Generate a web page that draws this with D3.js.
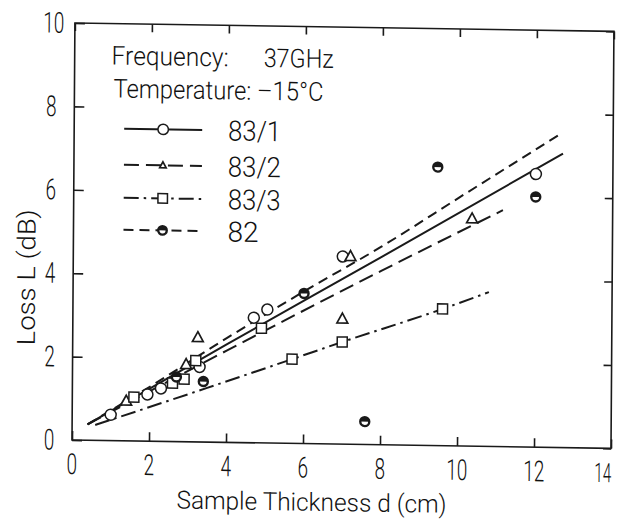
<!DOCTYPE html>
<html>
<head>
<meta charset="utf-8">
<script src="https://cdn.jsdelivr.net/npm/d3@7"></script>
<style>
  html, body { margin: 0; padding: 0; background: #fff; }
  svg { display: block; }
  text { font-family: Roboto, "Liberation Sans", sans-serif; font-weight: 300; fill: #111; }
</style>
</head>
<body>
<svg id="chart" width="626" height="526"></svg>
<script>
// Axis ticks
const xTicks = [0, 2, 4, 6, 8, 10, 12, 14];
const yTicks = [0, 2, 4, 6, 8, 10];

// Series names (legend order)
const seriesNames = ["83/1", "83/2", "83/3", "82"];

// Measured points: [thickness d (cm), loss L (dB)]
const pts831 = [[1.0, 0.62], [1.95, 1.12], [2.3, 1.27], [3.3, 1.8], [4.7, 3.0], [5.05, 3.2], [7.0, 4.5], [12.0, 6.55]];
const pts832 = [[1.4, 0.95], [2.95, 1.85], [3.25, 2.5], [7.0, 3.0], [7.2, 4.5], [10.35, 5.45]];
const pts833 = [[1.6, 1.05], [2.6, 1.4], [2.9, 1.5], [3.2, 1.95], [4.9, 2.75], [5.7, 2.02], [7.0, 2.45], [9.6, 3.28]];
const pts82  = [[2.7, 1.55], [3.4, 1.45], [6.0, 3.6], [7.6, 0.55], [9.45, 6.68], [12.0, 6.0]];

// Fitted loss curves
const fit831 = [[0.4, 0.38], [4, 2.35], [8, 4.5], [12.7, 7.05]];
const fit832 = [[0.4, 0.38], [4, 2.2], [8, 4.17], [11.15, 5.67]];
const fit833 = [[0.6, 0.37], [3.5, 1.3], [5.7, 2.02], [7, 2.45], [9.6, 3.28], [10.8, 3.7]];
const fit82  = [[0.4, 0.38], [2, 1.3], [4, 2.5], [6, 3.65], [8, 4.75], [10, 5.95], [12.6, 7.5]];

const series = [
  { name: seriesNames[0], pts: pts831, fit: fit831, dash: null,         marker: "circle" },
  { name: seriesNames[1], pts: pts832, fit: fit832, dash: "15,7",       marker: "triangle" },
  { name: seriesNames[2], pts: pts833, fit: fit833, dash: "15,5,2.5,5", marker: "square" },
  { name: seriesNames[3], pts: pts82,  fit: fit82,  dash: "10,6",       marker: "half" }
];

const svg = d3.select("#chart");
// the sheet sits slightly askew, so the whole drawing carries a small skew
const g = svg.append("g").attr("transform", "matrix(1,0.0155,-0.007,1,2.08,-1.13)");

const x = d3.scaleLinear().domain([0, 14]).range([73, 612]);
const y = d3.scaleLinear().domain([0, 10]).range([440, 23]);

const ink = "#1a1a1a";

// narrow lettering: squeeze each string to a set width
function label(sel, str, px, py, width, size, anchor) {
  return sel.append("text")
    .attr("x", px).attr("y", py)
    .attr("font-size", size)
    .attr("text-anchor", anchor || "start")
    .attr("textLength", width)
    .attr("lengthAdjust", "spacingAndGlyphs")
    .text(str);
}

// frame
g.append("rect")
  .attr("x", x(0)).attr("y", y(10))
  .attr("width", x(14) - x(0)).attr("height", y(0) - y(10))
  .attr("fill", "none").attr("stroke", ink).attr("stroke-width", 1.6);

// axes with inward ticks
const axB = g.append("g").attr("transform", `translate(0,${y(0)})`)
  .call(d3.axisBottom(x).tickValues(xTicks).tickSizeInner(-9).tickSizeOuter(0).tickFormat(""));
const axT = g.append("g").attr("transform", `translate(0,${y(10)})`)
  .call(d3.axisTop(x).tickValues(xTicks).tickSizeInner(-8).tickSizeOuter(0).tickFormat(""));
const axL = g.append("g").attr("transform", `translate(${x(0)},0)`)
  .call(d3.axisLeft(y).tickValues(yTicks).tickSizeInner(-10).tickSizeOuter(0).tickFormat(""));
const axR = g.append("g").attr("transform", `translate(${x(14)},0)`)
  .call(d3.axisRight(y).tickValues(yTicks).tickSizeInner(-8).tickSizeOuter(0).tickFormat(""));

[axB, axT, axL, axR].forEach(a => {
  a.select(".domain").remove();
  a.selectAll(".tick line").attr("stroke", ink).attr("stroke-width", 1.6);
});

// tick labels
const tickLabels = g.append("g");
xTicks.forEach((v, i) => {
  const s = String(v);
  const last = i === xTicks.length - 1;
  label(tickLabels, s, last ? x(v) - 8 : x(v), 474, s.length * (last ? 8.5 : 10.5), last ? 27 : 29, "middle");
});
yTicks.forEach(v => {
  const s = String(v);
  label(tickLabels, s, s.length > 1 ? 52 : 50, y(v) + 10, s.length * 10.5, 29, "middle");
});

// axis titles
label(g, "Sample Thickness  d  (cm)", 313, 507, 270, 25, "middle");
const yt = g.append("g").attr("transform", "translate(35,278) rotate(-90)");
label(yt, "Loss  L  (dB)", 0, 0, 136, 25, "middle");

// fitted curves
const line = d3.line().x(d => x(d[0])).y(d => y(d[1])).curve(d3.curveMonotoneX);
series.forEach(s => {
  g.append("path").datum(s.fit)
    .attr("d", line)
    .attr("fill", "none").attr("stroke", ink).attr("stroke-width", 2)
    .attr("stroke-dasharray", s.dash);
});

// marker drawing
function drawMarker(sel, type, cx, cy, scale) {
  const k = scale || 1;
  if (type === "circle") {
    sel.append("circle").attr("cx", cx).attr("cy", cy).attr("r", 5.5 * k)
      .attr("fill", "#fff").attr("stroke", ink).attr("stroke-width", 1.5);
  } else if (type === "triangle") {
    const s = 6 * k;
    sel.append("path")
      .attr("d", `M${cx},${cy - s}L${cx + s * 0.9},${cy + s * 0.65}L${cx - s * 0.9},${cy + s * 0.65}Z`)
      .attr("fill", "#fff").attr("stroke", ink).attr("stroke-width", 1.7);
  } else if (type === "square") {
    const s = 5 * k;
    sel.append("rect").attr("x", cx - s).attr("y", cy - s).attr("width", 2 * s).attr("height", 2 * s)
      .attr("fill", "#fff").attr("stroke", ink).attr("stroke-width", 1.5);
  } else {
    const r = 4.5 * k;
    sel.append("circle").attr("cx", cx).attr("cy", cy).attr("r", r)
      .attr("fill", "#fff").attr("stroke", ink).attr("stroke-width", 2.4);
    sel.append("path")
      .attr("d", `M${cx - r},${cy}A${r},${r} 0 0 1 ${cx + r},${cy}Z`)
      .attr("fill", ink);
  }
}

// data points
series.forEach(s => {
  const mg = g.append("g");
  s.pts.forEach(p => drawMarker(mg, s.marker, x(p[0]), y(p[1])));
});

// header notes
label(g, "Frequency:", 110, 64, 117, 26);
label(g, "37GHz", 262, 64, 70, 26);
label(g, "Temperature: \u201315\u00b0C", 112, 97, 210, 26);

// legend
const legendRows = [128, 164, 197, 229];
series.forEach((s, i) => {
  const ly = legendRows[i];
  const lg = g.append("g");
  lg.append("line").attr("x1", 123).attr("x2", 201).attr("y1", ly).attr("y2", ly)
    .attr("stroke", ink).attr("stroke-width", 2).attr("stroke-dasharray", s.dash);
  drawMarker(lg, s.marker, 162, ly, s.marker === "triangle" ? 0.6 : 0.95);
  label(lg, s.name, 227, ly + 10, s.name.length === 2 ? 31 : 53, 28);
});
</script>
</body>
</html>
